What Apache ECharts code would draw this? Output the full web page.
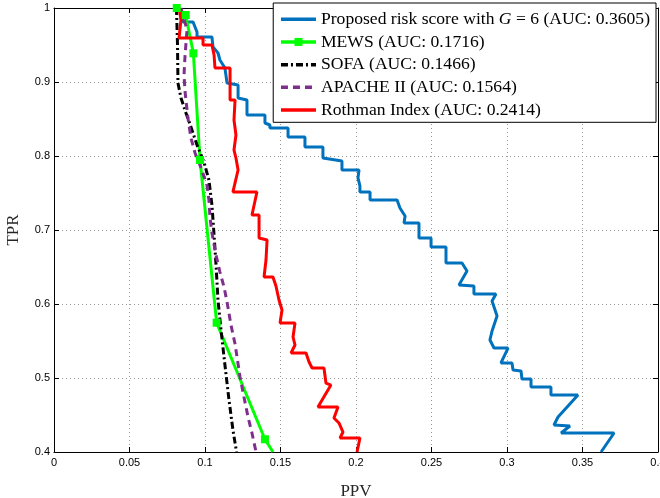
<!DOCTYPE html>
<html><head><meta charset="utf-8">
<script src="https://cdn.jsdelivr.net/npm/echarts@6/dist/echarts.min.js"></script>
<style>html,body{margin:0;padding:0;background:#fff}#c{width:660px;height:498px}</style>
</head><body><div id="c"></div>
<script>
// Tick values
const xTicks = [0, 0.05, 0.1, 0.15, 0.2, 0.25, 0.3, 0.35, 0.4];
const yTicks = [0.4, 0.5, 0.6, 0.7, 0.8, 0.9, 1];

// Series names
const names = [
  'Proposed risk score with G = 6 (AUC: 0.3605)',
  'MEWS (AUC: 0.1716)',
  'SOFA (AUC: 0.1466)',
  'APACHE II (AUC: 0.1564)',
  'Rothman Index (AUC: 0.2414)'
];

// [PPV, TPR] points
const proposedPts = [
  [0.0821,1.0],[0.0854,0.9905],[0.0854,0.9811],[0.0921,0.9811],[0.0947,0.9676],[0.0947,0.9608],
  [0.1046,0.9608],[0.1053,0.9473],[0.1086,0.9392],[0.1099,0.9297],[0.1132,0.9189],[0.1146,0.8986],
  [0.1219,0.8959],[0.1219,0.8784],[0.1278,0.8757],[0.1278,0.8554],[0.1397,0.8554],[0.1397,0.8446],
  [0.1430,0.8419],[0.1430,0.8378],[0.1550,0.8378],[0.1550,0.8257],[0.1662,0.8257],[0.1662,0.8122],
  [0.1781,0.8122],[0.1781,0.7973],[0.1907,0.7932],[0.1907,0.7811],[0.2020,0.7811],[0.2013,0.7703],
  [0.2026,0.7595],[0.2026,0.7514],[0.2093,0.7514],[0.2093,0.7405],[0.2272,0.7405],[0.2291,0.7297],
  [0.2325,0.7189],[0.2318,0.7095],[0.2417,0.7095],[0.2417,0.6892],[0.2497,0.6892],[0.2497,0.6770],
  [0.2596,0.6770],[0.2596,0.6554],[0.2702,0.6554],[0.2735,0.6446],[0.2682,0.6257],[0.2781,0.6243],
  [0.2781,0.6135],[0.2927,0.6135],[0.2901,0.6041],[0.2934,0.5838],[0.2901,0.5635],[0.2887,0.5514],
  [0.2914,0.5405],[0.3007,0.5405],[0.2960,0.5203],[0.3033,0.5203],[0.3040,0.5108],[0.3093,0.5095],
  [0.3099,0.4986],[0.3159,0.4986],[0.3159,0.4878],[0.3291,0.4878],[0.3291,0.4770],[0.3470,0.4770],
  [0.3338,0.4473],[0.3311,0.4365],[0.3417,0.4351],[0.3358,0.4257],[0.3709,0.4257],[0.3623,0.4]
];
const mewsPts = [
  [0.0813,1.0],[0.0872,0.9905],[0.0923,0.9388],[0.0967,0.7946],[0.1077,0.5747],[0.1397,0.4172]
];
const mewsTail = [0.145, 0.4];
const sofaPts = [
  [0.0811,1.0],[0.0818,0.95],[0.0821,0.8986],[0.0841,0.8784],[0.0874,0.8581],[0.0907,0.8392],
  [0.0947,0.8149],[0.0993,0.7919],[0.1026,0.7676],[0.1046,0.7338],[0.1060,0.6932],[0.1073,0.6527],
  [0.1086,0.6054],[0.1106,0.5649],[0.1132,0.5176],[0.1159,0.4703],[0.1185,0.4297],[0.1209,0.4]
];
const apachePts = [
  [0.0841,1.0],[0.0881,0.9703],[0.0868,0.9365],[0.0861,0.9095],[0.0868,0.8865],[0.0887,0.8514],
  [0.0907,0.8243],[0.0934,0.8041],[0.0974,0.7838],[0.1013,0.7608],[0.1026,0.7405],[0.1033,0.7176],
  [0.1046,0.6959],[0.1073,0.6662],[0.1099,0.6432],[0.1126,0.6230],[0.1146,0.6027],[0.1172,0.5716],
  [0.1199,0.5459],[0.1232,0.5014],[0.1258,0.4743],[0.1285,0.4473],[0.1311,0.4257],[0.1338,0.4]
];
const rothmanPts = [
  [0.0828,1.0],[0.0841,0.9838],[0.0828,0.9595],[0.0987,0.9595],[0.0987,0.95],[0.1046,0.95],
  [0.1060,0.9365],[0.1066,0.9189],[0.1166,0.9189],[0.1166,0.8757],[0.1199,0.8757],[0.1192,0.8486],
  [0.1205,0.8284],[0.1192,0.8081],[0.1205,0.7973],[0.1219,0.7811],[0.1185,0.7514],[0.1344,0.7514],
  [0.1311,0.7203],[0.1358,0.7203],[0.1358,0.6892],[0.1411,0.6865],[0.1404,0.6595],[0.1391,0.6365],
  [0.1450,0.6365],[0.1470,0.6243],[0.1490,0.6054],[0.1510,0.5919],[0.1497,0.5743],[0.1596,0.5743],
  [0.1583,0.5554],[0.1596,0.5446],[0.1570,0.5338],[0.1669,0.5338],[0.1689,0.5216],[0.1709,0.5135],
  [0.1788,0.5135],[0.1801,0.4932],[0.1834,0.4905],[0.1748,0.4608],[0.1881,0.4608],[0.1854,0.4459],
  [0.1887,0.4392],[0.1914,0.4270],[0.1894,0.4189],[0.2026,0.4189],[0.2007,0.4]
];

const colors = ['#0072BD', '#00FF00', '#000000', '#7E2F8E', '#FF0000'];

const chart = echarts.init(document.getElementById('c'), null, {renderer: 'canvas'});
const tickFmt = v => String(+(+v).toFixed(2));
const serif = '"Liberation Serif", "DejaVu Serif", serif';
const sans = '"Liberation Sans", Arial, sans-serif';
const gridLine = {show: true, lineStyle: {color: '#9a9a9a', type: [1, 3], width: 1}};

const xBase = {type: 'value', min: xTicks[0], max: xTicks[xTicks.length - 1], interval: 0.05};
const yBase = {type: 'value', min: yTicks[0], max: yTicks[yTicks.length - 1], interval: 0.1};

const noSym = {color: 'rgba(0,0,0,0)', borderWidth: 0, opacity: 0};
const legFont = 17.6;

chart.setOption({
  animation: false,
  backgroundColor: '#fff',
  grid: {left: 54, right: 2, top: 8, bottom: 46, containLabel: false, outerBoundsMode: 'none'},
  xAxis: [
    Object.assign({}, xBase, {
      position: 'bottom', name: 'PPV', nameLocation: 'middle', nameGap: 31,
      nameTextStyle: {fontFamily: serif, fontSize: 17, color: '#262626'},
      axisLine: {show: true, onZero: false, lineStyle: {color: '#000', width: 1}},
      axisTick: {show: true, inside: true, length: 5, lineStyle: {color: '#000'}},
      axisLabel: {fontFamily: sans, fontSize: 11, color: '#000', margin: 5, formatter: tickFmt},
      splitLine: gridLine
    }),
    Object.assign({}, xBase, {
      position: 'top',
      axisLine: {show: true, onZero: false, lineStyle: {color: '#000', width: 1}},
      axisTick: {show: true, inside: true, length: 5, lineStyle: {color: '#000'}},
      axisLabel: {show: false}, splitLine: {show: false}
    })
  ],
  yAxis: [
    Object.assign({}, yBase, {
      position: 'left', name: 'TPR', nameLocation: 'middle', nameGap: 32, nameRotate: 90,
      nameTextStyle: {fontFamily: serif, fontSize: 17, color: '#262626'},
      axisLine: {show: true, onZero: false, lineStyle: {color: '#000', width: 1}},
      axisTick: {show: true, inside: true, length: 5, lineStyle: {color: '#000'}},
      axisLabel: {fontFamily: sans, fontSize: 11, color: '#000', margin: 4, formatter: tickFmt},
      splitLine: gridLine
    }),
    Object.assign({}, yBase, {
      position: 'right',
      axisLine: {show: true, onZero: false, lineStyle: {color: '#000', width: 1}},
      axisTick: {show: true, inside: true, length: 5, lineStyle: {color: '#000'}},
      axisLabel: {show: false}, splitLine: {show: false}
    })
  ],
  legend: {
    orient: 'vertical', right: 4, top: 3,
    backgroundColor: '#fff', borderColor: '#000', borderWidth: 1, borderRadius: 0,
    padding: [7, 6, 3, 6], itemGap: 4.2, itemWidth: 35, itemHeight: 10,
    lineStyle: {width: 3.5},
    data: [
      {name: names[0], itemStyle: noSym},
      {name: names[1]},
      {name: names[2], itemStyle: noSym},
      {name: names[3], itemStyle: noSym},
      {name: names[4], itemStyle: noSym}
    ],
    formatter: function (n) {
      if (n === names[0]) return '{n|Proposed risk score with }{i|G}{n| = 6 (AUC: 0.3605)}';
      return '{n|' + n + '}';
    },
    textStyle: {
      fontFamily: serif, fontSize: legFont, color: '#000', lineHeight: 18.5,
      rich: {
        n: {fontFamily: serif, fontSize: legFont, color: '#000', lineHeight: 18.5},
        i: {fontFamily: serif, fontSize: legFont, fontStyle: 'italic', color: '#000', lineHeight: 18.5}
      }
    }
  },
  series: [
    {name: names[0], type: 'line', data: proposedPts, symbol: 'none', color: colors[0],
     lineStyle: {width: 3, color: colors[0]}, clip: true},
    {name: names[1], type: 'line', data: mewsPts.concat([{value: mewsTail, symbol: 'none'}]),
     symbol: 'rect', symbolSize: 8, showSymbol: true, color: colors[1],
     itemStyle: {color: colors[1]}, lineStyle: {width: 3, color: colors[1]}, clip: true},
    {name: names[2], type: 'line', data: sofaPts, symbol: 'none', color: colors[2],
     lineStyle: {width: 3, color: colors[2], type: [7, 3, 2, 3]}, clip: true},
    {name: names[3], type: 'line', data: apachePts, symbol: 'none', color: colors[3],
     lineStyle: {width: 3, color: colors[3], type: [7, 5]}, clip: true},
    {name: names[4], type: 'line', data: rothmanPts, symbol: 'none', color: colors[4],
     lineStyle: {width: 3, color: colors[4]}, clip: true}
  ]
});
</script>
</body></html>
